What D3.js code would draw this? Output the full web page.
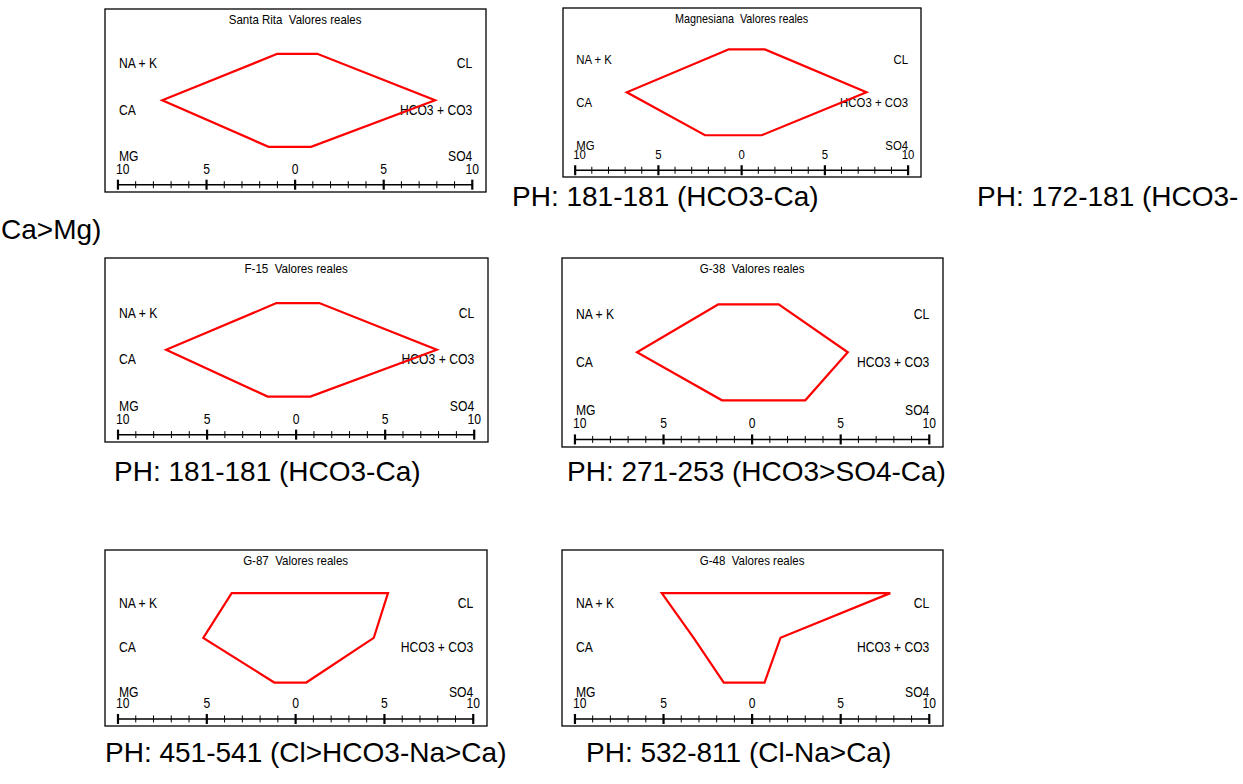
<!DOCTYPE html>
<html>
<head>
<meta charset="utf-8">
<script src="https://cdn.jsdelivr.net/npm/d3@7"></script>
<style>
  body { margin: 0; background: #fff; }
  svg { display: block; }
</style>
</head>
<body>
<div id="chart"></div>
<script>
/* Stiff diagrams, meq/l (cations left, anions right) */
const wells = ["Santa Rita", "Magnesiana", "F-15", "G-38", "G-87", "G-48"];
const cationNames = ["NA + K", "CA", "MG"];
const anionNames = ["CL", "HCO3 + CO3", "SO4"];
const naK  = [1.0, 0.8, 1.1, 1.9, 3.6, 5.1];
const ca   = [7.5, 6.9, 7.3, 6.5, 5.2, 3.3];
const mg   = [1.5, 2.2, 1.6, 1.7, 1.2, 1.6];
const cl   = [1.25, 1.4, 1.3, 1.5, 5.2, 7.8];
const hco3 = [7.9, 7.5, 7.9, 5.4, 4.4, 1.6];
const so4  = [0.9, 1.2, 0.8, 3.0, 0.6, 0.7];
const tickValues = d3.range(-10, 11);
const tickLabels = ["10", "5", "0", "5", "10"];
const captions = ["PH: 181-181 (HCO3-Ca)", "PH: 172-181 (HCO3-", "Ca>Mg)",
                  "PH: 181-181 (HCO3-Ca)", "PH: 271-253 (HCO3>SO4-Ca)",
                  "PH: 451-541 (Cl>HCO3-Na>Ca)", "PH: 532-811 (Cl-Na>Ca)"];

/* page layout */
const width = 1243, height = 784;
const boxes = [
  {x: 105, y: 9,   w: 381, h: 183},
  {x: 563, y: 8,   w: 358, h: 169},
  {x: 105, y: 258, w: 383, h: 184},
  {x: 562, y: 258, w: 381, h: 189},
  {x: 105, y: 550, w: 382, h: 176},
  {x: 562, y: 550, w: 381, h: 176}
];
const captionPos = [[512, 206], [977, 206], [1, 239], [114, 481], [567, 481], [105, 762], [586, 762]];

const svg = d3.select("#chart")
  .append("svg")
  .attr("width", width)
  .attr("height", height)
  .attr("viewBox", [0, 0, width, height]);

svg.append("rect").attr("width", width).attr("height", height).attr("fill", "#fff");

const smallFont = "'Liberation Sans', Arial, sans-serif";

// narrow screen-font look: squeeze the text horizontally
function label(g, x, y, txt, anchor, size) {
  return g.append("text")
    .attr("transform", `translate(${x},${y}) scale(0.86,1)`)
    .attr("text-anchor", anchor)
    .style("white-space", "pre")
    .style("font", `${size}px ${smallFont}`)
    .attr("fill", "#000")
    .text(txt);
}

function stiff(i) {
  const {x, y, w, h} = boxes[i];
  const fs = w * 0.037;
  const g = svg.append("g").attr("class", "panel");

  const xScale = d3.scaleLinear().domain([-10, 10]).range([x + 0.034 * w, x + 0.964 * w]);
  const yScale = d3.scalePoint().domain([0, 1, 2]).range([y + 0.245 * h, y + 0.753 * h]);
  const base = y + 0.96 * h;

  g.append("rect")
    .attr("x", x).attr("y", y).attr("width", w).attr("height", h)
    .attr("fill", "#fff").attr("stroke", "#000").attr("stroke-width", 1.3);

  label(g, xScale(0), y + 15, `${wells[i]}  Valores reales`, "middle", fs * 0.95);

  // ion labels
  cationNames.forEach((d, k) => label(g, xScale(-10) + 1, yScale(k) + 14.5, d, "start", fs));
  anionNames.forEach((d, k) => label(g, xScale(10), yScale(k) + 14.5, d, "end", fs));

  // axis
  g.append("line")
    .attr("x1", xScale(-10)).attr("x2", xScale(10))
    .attr("y1", base).attr("y2", base)
    .attr("stroke", "#000").attr("stroke-width", 1.5);
  g.selectAll(".tick").data(tickValues).join("line")
    .attr("x1", d => xScale(d)).attr("x2", d => xScale(d))
    .attr("y1", d => d % 5 === 0 ? base - 5 : base - 3.5)
    .attr("y2", d => d % 5 === 0 ? base + 5 : base + 3.5)
    .attr("stroke", "#000")
    .attr("stroke-width", d => d % 5 === 0 ? 2.2 : 1);
  tickLabels.forEach((d, k) =>
    label(g, xScale(-10 + k * 5) + (k === 0 ? -2 : 0), base - 11, d, k === 0 ? "start" : "middle", fs));

  // stiff polygon
  const pts = [[-naK[i], 0], [-ca[i], 1], [-mg[i], 2], [so4[i], 2], [hco3[i], 1], [cl[i], 0]];
  const line = d3.line()
    .x(d => xScale(d[0]))
    .y(d => yScale(d[1]))
    .curve(d3.curveLinearClosed);
  g.append("path")
    .attr("d", line(pts))
    .attr("fill", "none")
    .attr("stroke", "#ff0000")
    .attr("stroke-width", 2.2)
    .attr("stroke-linejoin", "miter");
}

wells.forEach((w, i) => stiff(i));

svg.append("g").selectAll("text").data(captions).join("text")
  .attr("x", (d, i) => captionPos[i][0])
  .attr("y", (d, i) => captionPos[i][1])
  .style("font", "28px 'Liberation Sans', Arial, sans-serif")
  .attr("fill", "#000")
  .text(d => d);
</script>
</body>
</html>
